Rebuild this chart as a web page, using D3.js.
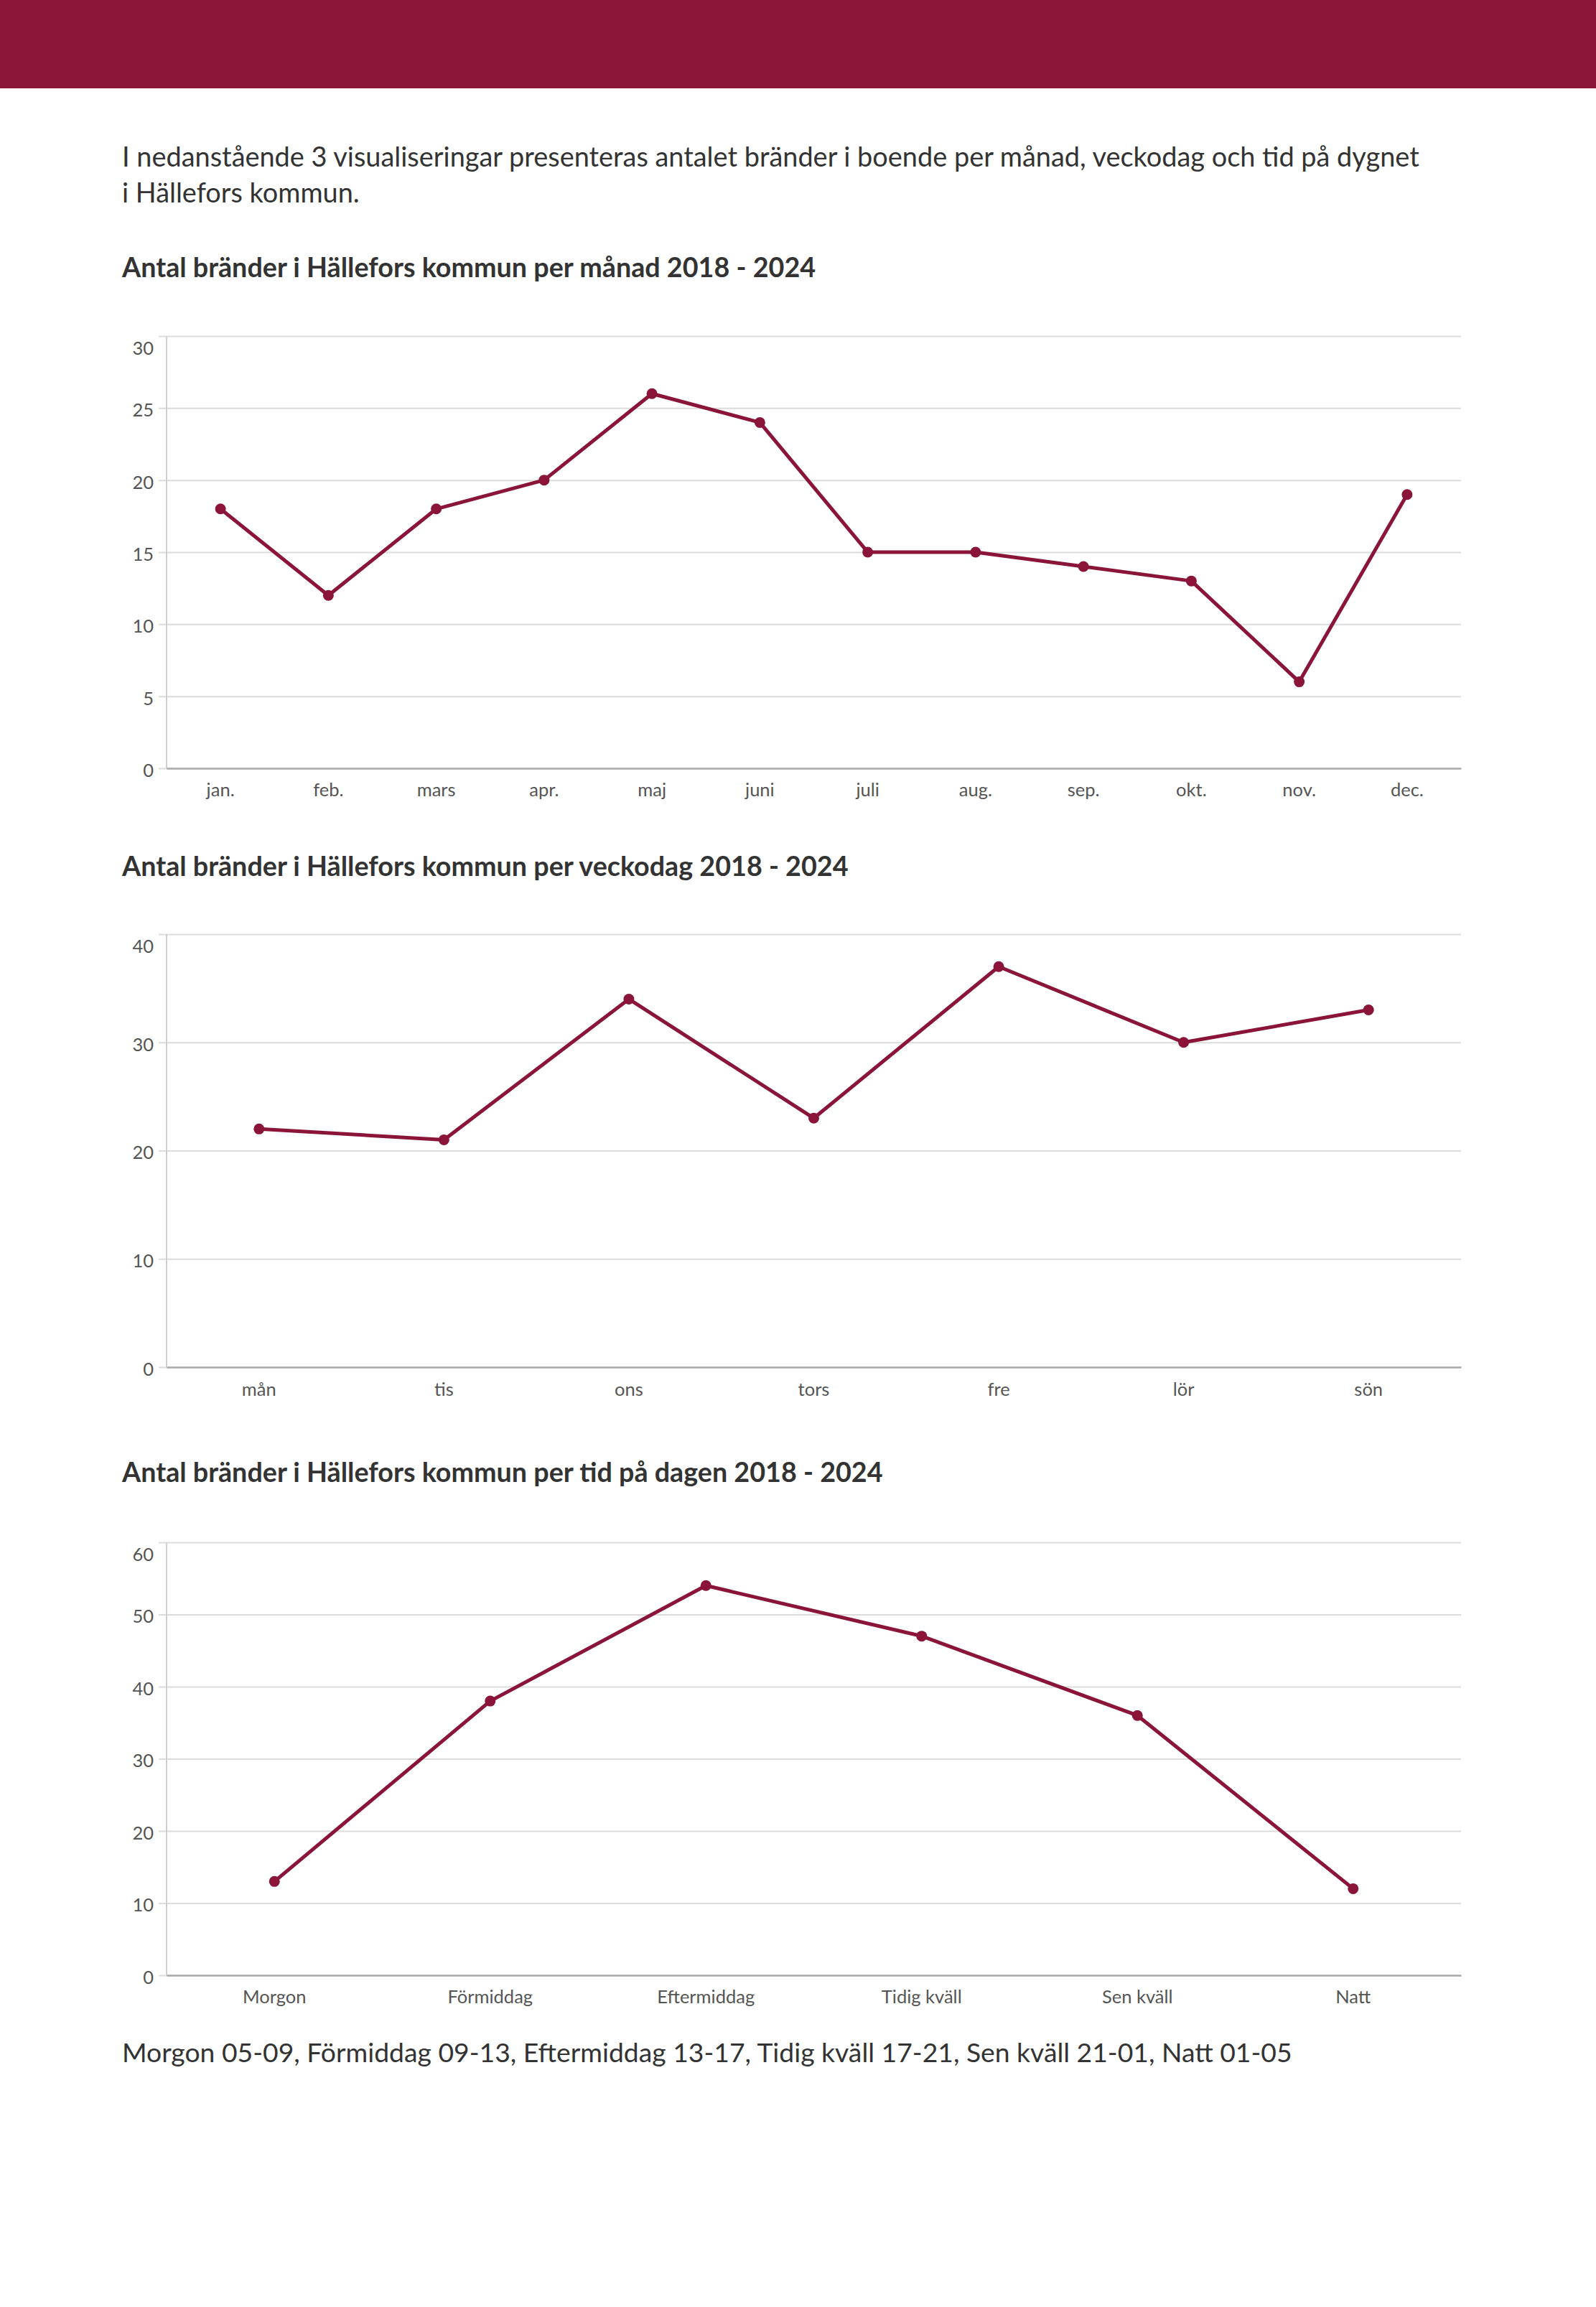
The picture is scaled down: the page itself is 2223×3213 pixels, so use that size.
<!DOCTYPE html>
<html>
<head>
<meta charset="utf-8">
<script src="https://cdn.jsdelivr.net/npm/d3@7"></script>
<style>
  body { margin: 0; background: #fff; }
  svg text { font-family: Lato, "Open Sans", sans-serif; }
</style>
</head>
<body>
<div id="page"></div>
<script>
// data
const months = ['jan.', 'feb.', 'mars', 'apr.', 'maj', 'juni', 'juli', 'aug.', 'sep.', 'okt.', 'nov.', 'dec.'];
const monthValues = [18, 12, 18, 20, 26, 24, 15, 15, 14, 13, 6, 19];
const monthTicks = [0, 5, 10, 15, 20, 25, 30];

const weekdays = ['mån', 'tis', 'ons', 'tors', 'fre', 'lör', 'sön'];
const weekdayValues = [22, 21, 34, 23, 37, 30, 33];
const weekdayTicks = [0, 10, 20, 30, 40];

const dayparts = ['Morgon', 'Förmiddag', 'Eftermiddag', 'Tidig kväll', 'Sen kväll', 'Natt'];
const daypartValues = [13, 38, 54, 47, 36, 12];
const daypartTicks = [0, 10, 20, 30, 40, 50, 60];

const W = 2223, H = 3213;
const red = '#8a1538';

let svg = d3.select('#page').append('svg')
    .attr('width', W)
    .attr('height', H);

// header band
svg.append('rect')
    .attr('x', 0).attr('y', 0)
    .attr('width', W).attr('height', 123)
    .attr('fill', red);

// intro text
svg.append('text')
    .attr('x', 170).attr('y', 232)
    .attr('font-size', 37.9).attr('fill', '#333')
    .text('I nedanstående 3 visualiseringar presenteras antalet bränder i boende per månad, veckodag och tid på dygnet');
svg.append('text')
    .attr('x', 170).attr('y', 282)
    .attr('font-size', 37.9).attr('fill', '#333')
    .text('i Hällefors kommun.');

function title(y, txt) {
    svg.append('text')
        .attr('x', 170).attr('y', y)
        .attr('font-size', 37.7).attr('font-weight', 'bold').attr('fill', '#333')
        .text(txt);
}

function lineChart(top, bottom, labels, values, ticks, labelY) {
    let left = 232, right = 2035;

    let x = d3.scaleBand()
        .domain(labels)
        .range([left, right]);

    let y = d3.scaleLinear()
        .domain([0, d3.max(ticks)])
        .range([bottom, top]);

    let g = svg.append('g');

    // gridlines + left ticks
    let yAxis = d3.axisLeft(y)
        .tickValues(ticks)
        .tickSize(-(right - left))
        .tickPadding(18);

    let yg = g.append('g')
        .attr('transform', `translate(${left},0)`)
        .call(yAxis);
    yg.select('.domain').remove();
    yg.selectAll('.tick line')
        .attr('x1', -11)
        .attr('stroke', '#dcdcdc')
        .attr('stroke-width', 2);
    yg.selectAll('.tick text')
        .attr('font-size', 25.5)
        .attr('font-family', 'Lato, sans-serif')
        .attr('fill', '#555')
        .attr('dy', d => d === d3.max(ticks) ? '1.0em' : '0.45em');

    // y axis line
    g.append('line')
        .attr('x1', left).attr('x2', left)
        .attr('y1', top).attr('y2', bottom)
        .attr('stroke', '#d0d0d0').attr('stroke-width', 2);

    // x axis
    let xg = g.append('g')
        .attr('transform', `translate(0,${bottom})`)
        .call(d3.axisBottom(x).tickSize(0).tickPadding(0));
    xg.select('.domain')
        .attr('stroke', '#aaa').attr('stroke-width', 2.5);
    xg.selectAll('.tick text')
        .attr('y', labelY - bottom)
        .attr('dy', '0.35em')
        .attr('font-size', 25.5)
        .attr('font-family', 'Lato, sans-serif')
        .attr('fill', '#555');

    let line = d3.line()
        .x((d, i) => x(labels[i]) + x.bandwidth() / 2)
        .y(d => y(d));

    g.append('path')
        .datum(values)
        .attr('d', line)
        .attr('fill', 'none')
        .attr('stroke', red)
        .attr('stroke-width', 5)
        .attr('stroke-linejoin', 'round');

    g.selectAll('circle')
        .data(values)
        .enter().append('circle')
        .attr('cx', (d, i) => x(labels[i]) + x.bandwidth() / 2)
        .attr('cy', d => y(d))
        .attr('r', 7.5)
        .attr('fill', red);
}

title(386, 'Antal bränder i Hällefors kommun per månad 2018 - 2024');
lineChart(468, 1070, months, monthValues, monthTicks, 1100);

title(1220, 'Antal bränder i Hällefors kommun per veckodag 2018 - 2024');
lineChart(1301, 1904, weekdays, weekdayValues, weekdayTicks, 1935);

title(2064, 'Antal bränder i Hällefors kommun per tid på dagen 2018 - 2024');
lineChart(2148, 2751, dayparts, daypartValues, daypartTicks, 2781);

// footnote
svg.append('text')
    .attr('x', 170).attr('y', 2872)
    .attr('font-size', 37.3).attr('fill', '#333')
    .text('Morgon 05-09, Förmiddag 09-13, Eftermiddag 13-17, Tidig kväll 17-21, Sen kväll 21-01, Natt 01-05');
</script>
</body>
</html>
